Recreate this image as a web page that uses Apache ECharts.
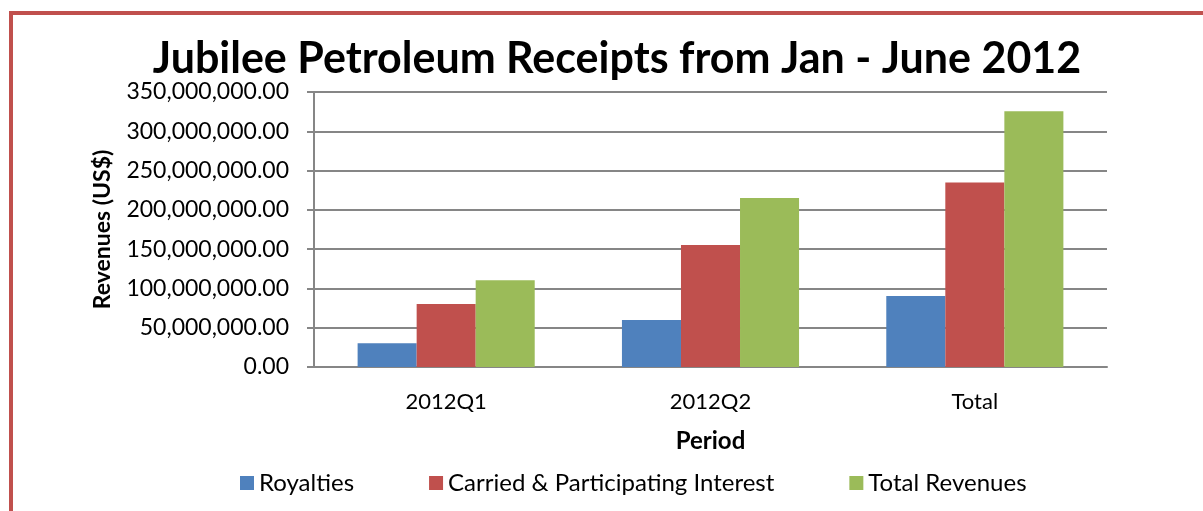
<!DOCTYPE html>
<html><head><meta charset="utf-8">
<script src="https://cdn.jsdelivr.net/npm/echarts@6/dist/echarts.min.js"></script>
<style>html,body{margin:0;padding:0;background:#fff;}#c{width:1203px;height:511px;}</style>
</head><body><div id="c"></div>
<script>
const categories = ['2012Q1', '2012Q2', 'Total'];
const royalties = [30200000, 59800000, 90300000];
const carried = [80200000, 155200000, 234800000];
const totalRevenues = [110300000, 215000000, 325500000];
const seriesNames = ['Royalties', 'Carried & Participating Interest', 'Total Revenues'];
const colors = ['#4f81bd', '#c0504d', '#9bbb59'];
const FONT = 'Lato';

const chart = echarts.init(document.getElementById('c'));
const fmt = v => v.toLocaleString('en-US', {minimumFractionDigits: 2, maximumFractionDigits: 2});
chart.setOption({
  animation: false,
  textStyle: {fontFamily: FONT},
  title: {
    text: 'Jubilee Petroleum Receipts from Jan - June 2012',
    left: 612, textAlign: 'center', top: 33,
    textStyle: {fontFamily: FONT, fontWeight: 'bold', fontSize: 43, color: '#000'}
  },
  graphic: [{
    type: 'rect', shape: {x: 11, y: 13, width: 1400, height: 700},
    style: {fill: 'none', stroke: '#c0504d', lineWidth: 4}, silent: true
  }],
  legend: {
    data: seriesNames, top: 466, left: 235, itemGap: 75,
    itemWidth: 14, itemHeight: 14, icon: 'rect',
    textStyle: {fontFamily: FONT, fontSize: 24, color: '#000'}
  },
  grid: {left: 314, right: 96, top: 92, bottom: 144, containLabel: false},
  xAxis: {
    type: 'category', data: categories,
    name: 'Period', nameLocation: 'middle', nameGap: 62,
    nameTextStyle: {fontFamily: FONT, fontWeight: 'bold', fontSize: 24, color: '#000'},
    axisLine: {lineStyle: {color: '#868686', width: 2}},
    axisTick: {show: false},
    axisLabel: {fontFamily: FONT, fontSize: 22, color: '#000', margin: 24}
  },
  yAxis: {
    type: 'value', min: 0, max: 350000000, interval: 50000000,
    name: 'Revenues (US$)', nameLocation: 'middle', nameGap: 200,
    nameTextStyle: {fontFamily: FONT, fontWeight: 'bold', fontSize: 23, color: '#000'},
    axisLine: {show: true, lineStyle: {color: '#868686', width: 2}},
    axisTick: {show: true, length: 7, lineStyle: {color: '#868686', width: 2}},
    splitLine: {lineStyle: {color: '#868686', width: 2}},
    axisLabel: {fontFamily: FONT, fontSize: 23, color: '#000', margin: 25, formatter: fmt}
  },
  series: [
    {name: seriesNames[0], type: 'bar', data: royalties, itemStyle: {color: colors[0]}, barGap: '0%', barCategoryGap: '33%'},
    {name: seriesNames[1], type: 'bar', data: carried, itemStyle: {color: colors[1]}},
    {name: seriesNames[2], type: 'bar', data: totalRevenues, itemStyle: {color: colors[2]}}
  ]
});
</script></body></html>
